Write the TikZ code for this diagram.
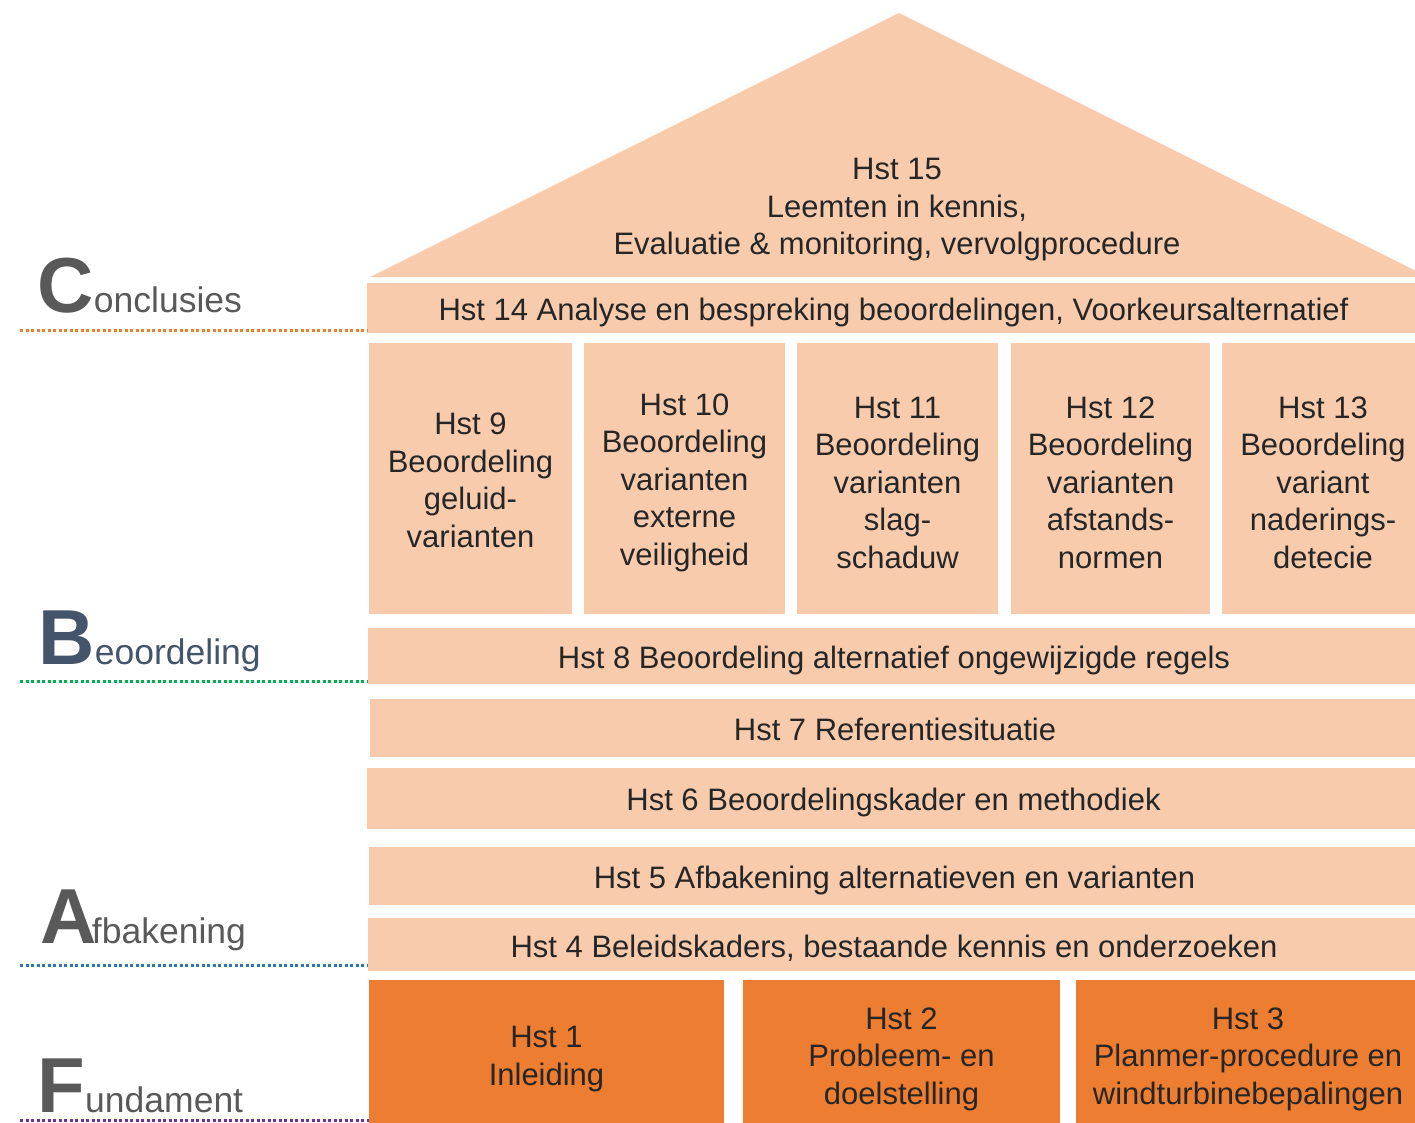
\documentclass[tikz,border=0pt]{standalone}
\usepackage{fontspec}
\setmainfont{Liberation Sans}
\definecolor{peach}{HTML}{F8CBAD}
\definecolor{orng}{HTML}{ED7D31}
\definecolor{txt}{HTML}{262626}
\definecolor{lblgray}{HTML}{595959}
\definecolor{lblblue}{HTML}{44546A}
\definecolor{dotor}{HTML}{ED7D31}
\definecolor{dotgr}{HTML}{00B050}
\definecolor{dotbl}{HTML}{2E75B6}
\definecolor{dotpu}{HTML}{7030A0}
\begin{document}
\begin{tikzpicture}[x=1pt,y=-1pt,
  box/.style={fill=peach, draw=none, inner sep=0pt},
  base/.style={box, fill=orng},
  tx/.style={inner sep=0pt, text=txt, align=center, yshift=-4pt,
    font=\fontsize{31}{37.5}\selectfont},
  bigletter/.style={inner sep=0pt, anchor=base west, font=\fontsize{78}{80}\selectfont\bfseries},
  suffix/.style={inner sep=0pt, anchor=base west, font=\fontsize{35.5}{40}\selectfont},
  dotline/.style={line width=3pt, dash pattern=on 3pt off 2.5pt}
]
\path[use as bounding box] (0,0) rectangle (1415,1123);
\clip (0,0) rectangle (1415,1123);

% roof
\fill[peach] (370,277) -- (899,13) -- (1428,277) -- cycle;
\node[tx] (h15) at (897,206) {Hst 15\\Leemten in kennis,\\Evaluatie \& monitoring, vervolgprocedure};

% Hst 14
\node[box, minimum width=1053pt, minimum height=50pt,
  label={[tx]center:Hst 14 Analyse en bespreking beoordelingen, Voorkeursalternatief}] (h14) at (893.5,308) {};

% columns
\node[box, minimum width=203pt, minimum height=271pt,
  label={[tx, yshift=2pt]center:{Hst 9\\Beoordeling\\geluid-\\varianten}}] (h9) at (470.5,478.5) {};
\node[box, minimum width=201pt, minimum height=271pt,
  label={[tx]center:{Hst 10\\Beoordeling\\varianten\\externe\\veiligheid}}] (h10) at (684.5,478.5) {};
\node[box, minimum width=201pt, minimum height=271pt,
  label={[tx]center:{Hst 11\\Beoordeling\\varianten\\slag-\\schaduw}}] (h11) at (897.5,478.5) {};
\node[box, minimum width=199pt, minimum height=271pt,
  label={[tx]center:{Hst 12\\Beoordeling\\varianten\\afstands-\\normen}}] (h12) at (1110.5,478.5) {};
\node[box, minimum width=202pt, minimum height=271pt,
  label={[tx]center:{Hst 13\\Beoordeling\\variant\\naderings-\\detecie}}] (h13) at (1323,478.5) {};

% bands
\node[box, minimum width=1052pt, minimum height=56pt,
  label={[tx]center:Hst 8 Beoordeling alternatief ongewijzigde regels}] (h8) at (894,656) {};
\node[box, minimum width=1050pt, minimum height=58pt,
  label={[tx, yshift=3pt]center:Hst 7 Referentiesituatie}] (h7) at (895,728) {};
\node[box, minimum width=1053pt, minimum height=61pt,
  label={[tx]center:Hst 6 Beoordelingskader en methodiek}] (h6) at (893.5,798.5) {};
\node[box, minimum width=1051pt, minimum height=58pt,
  label={[tx]center:Hst 5 Afbakening alternatieven en varianten}] (h5) at (894.5,876) {};
\node[box, minimum width=1052pt, minimum height=53pt,
  label={[tx]center:Hst 4 Beleidskaders, bestaande kennis en onderzoeken}] (h4) at (894,944.5) {};

% foundation
\node[base, minimum width=355pt, minimum height=150pt,
  label={[tx]center:{Hst 1\\Inleiding}}] (h1) at (546.5,1055) {};
\node[base, minimum width=317pt, minimum height=150pt,
  label={[tx]center:{Hst 2\\Probleem- en\\doelstelling}}] (h2) at (901.5,1055) {};
\node[base, minimum width=344pt, minimum height=150pt,
  label={[tx]center:{Hst 3\\Planmer-procedure en\\windturbinebepalingen}}] (h3) at (1248,1055) {};

% left labels
\node[bigletter, text=lblgray] (lC) at (37,312) {C};
\node[suffix, text=lblgray] (sC) at (lC.base east) {onclusies};
\node[bigletter, text=lblblue] (lB) at (38,664) {B};
\node[suffix, text=lblblue] (sB) at (lB.base east) {eoordeling};
\node[bigletter, text=lblgray] (lA) at (40,943) {A};
\node[suffix, text=lblgray, xshift=-5pt] (sA) at (lA.base east) {fbakening};
\node[bigletter, text=lblgray] (lF) at (37,1112) {F};
\node[suffix, text=lblgray] (sF) at (lF.base east) {undament};

% dotted lines
\coordinate (cC1) at (20,330); \coordinate (cC2) at (367,330);
\coordinate (cB1) at (20,681); \coordinate (cB2) at (368,681);
\coordinate (cA1) at (20,965); \coordinate (cA2) at (368,965);
\coordinate (cF1) at (20,1120); \coordinate (cF2) at (369,1120);
\draw[dotline, dotor] (cC1) -- (cC2);
\draw[dotline, dotgr] (cB1) -- (cB2);
\draw[dotline, dotbl] (cA1) -- (cA2);
\draw[dotline, dotpu] (cF1) -- (cF2);
\end{tikzpicture}
\end{document}
